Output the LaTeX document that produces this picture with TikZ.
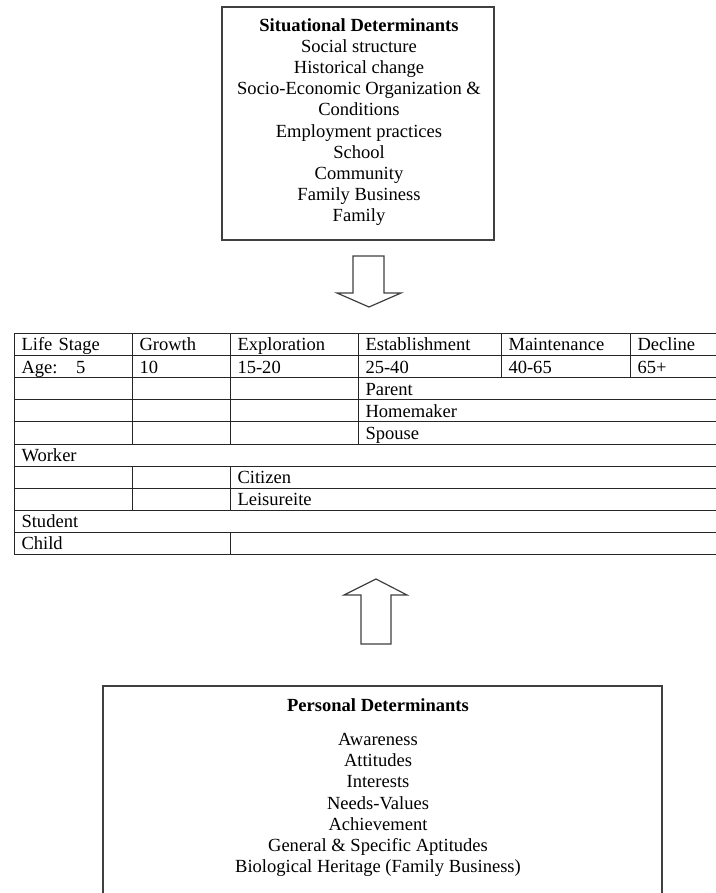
\documentclass[tikz,border=0pt]{standalone}
\usepackage{fontspec}
\setmainfont{Liberation Serif}
\usetikzlibrary{calc}
\tikzset{
  txt/.style={font=\fontsize{13.9}{15.9}\selectfont, inner sep=0pt, align=center},
  boxline/.style={draw=black!75, line width=1pt},
  cellbox/.style={draw=black!85, line width=0.8pt, anchor=north west, inner ysep=0pt, inner xsep=5.25pt,
    minimum height=16.575pt, text height=10.8pt, text depth=1.2pt, align=left,
    font=\fontsize{13.9}{15}\selectfont},
  blockarrow/.style={draw=black!75, line width=0.9pt, fill=white, line join=miter}
}
\newcommand\tcell[5]{%
  \pgfmathsetmacro\tcw{(#3-#2)*0.75-10.5}%
  \node[cellbox, text width=\tcw pt] (#1) at (#2,#4) {#5};%
}
\begin{document}
\begin{tikzpicture}[x=0.75pt,y=-0.75pt]
\useasboundingbox (0,0) rectangle (715,893);

% situational determinants
\node[boxline, minimum width=204pt, minimum height=174.75pt, inner sep=0pt] (sitbox) at (358,123.5) {};
\node[txt] (sittext) at (359,122) {\textbf{Situational Determinants}\\Social structure\\Historical change\\Socio-Economic Organization \&\\Conditions\\Employment practices\\School\\Community\\Family Business\\Family};

% down arrow
\draw[blockarrow] (353,256) coordinate (da) -- (384,256) -- (384,293) -- (401,293) -- (369,307) coordinate (dtip) -- (337,293) -- (353,293) -- cycle;

% table
\def\rA{333}\def\rB{355.1}\def\rC{377.2}\def\rD{399.3}\def\rE{421.4}
\def\rF{443.5}\def\rG{465.6}\def\rH{487.7}\def\rI{509.8}\def\rJ{531.9}
\tcell{c11}{14}{132}{\rA}{Life Stage}
\tcell{c12}{132}{230}{\rA}{Growth}
\tcell{c13}{230}{358}{\rA}{Exploration}
\tcell{c14}{358}{501}{\rA}{Establishment}
\tcell{c15}{501}{630}{\rA}{Maintenance}
\tcell{c16}{630}{718}{\rA}{Decline}
\tcell{c21}{14}{132}{\rB}{Age:\ \ \ 5}
\tcell{c22}{132}{230}{\rB}{10}
\tcell{c23}{230}{358}{\rB}{15-20}
\tcell{c24}{358}{501}{\rB}{25-40}
\tcell{c25}{501}{630}{\rB}{40-65}
\tcell{c26}{630}{718}{\rB}{65+}
\tcell{c31}{14}{132}{\rC}{}
\tcell{c32}{132}{230}{\rC}{}
\tcell{c33}{230}{358}{\rC}{}
\tcell{c34}{358}{718}{\rC}{Parent}
\tcell{c41}{14}{132}{\rD}{}
\tcell{c42}{132}{230}{\rD}{}
\tcell{c43}{230}{358}{\rD}{}
\tcell{c44}{358}{718}{\rD}{Homemaker}
\tcell{c51}{14}{132}{\rE}{}
\tcell{c52}{132}{230}{\rE}{}
\tcell{c53}{230}{358}{\rE}{}
\tcell{c54}{358}{718}{\rE}{Spouse}
\tcell{c61}{14}{718}{\rF}{Worker}
\tcell{c71}{14}{132}{\rG}{}
\tcell{c72}{132}{230}{\rG}{}
\tcell{c73}{230}{718}{\rG}{Citizen}
\tcell{c81}{14}{132}{\rH}{}
\tcell{c82}{132}{230}{\rH}{}
\tcell{c83}{230}{718}{\rH}{Leisureite}
\tcell{c91}{14}{718}{\rI}{Student}
\tcell{c101}{14}{230}{\rJ}{Child}
\tcell{c102}{230}{718}{\rJ}{}

% up arrow
\draw[blockarrow] (361,644) coordinate (ua) -- (361,595) -- (344,595) -- (376,579) coordinate (utip) -- (407,595) -- (391,595) -- (391,644) -- cycle;

% personal determinants (box runs off the bottom edge)
\draw[boxline] (103,900) coordinate (pbl) -- (103,686) -- (662,686) -- (662,900) coordinate (pbr);
\node[txt] (pertitle) at (378,705) {\textbf{Personal Determinants}};
\node[txt, anchor=north] (pertext) at (378,733) {Awareness\\Attitudes\\Interests\\Needs-Values\\Achievement\\General \& Specific Aptitudes\\Biological Heritage (Family Business)};
\end{tikzpicture}
\end{document}
